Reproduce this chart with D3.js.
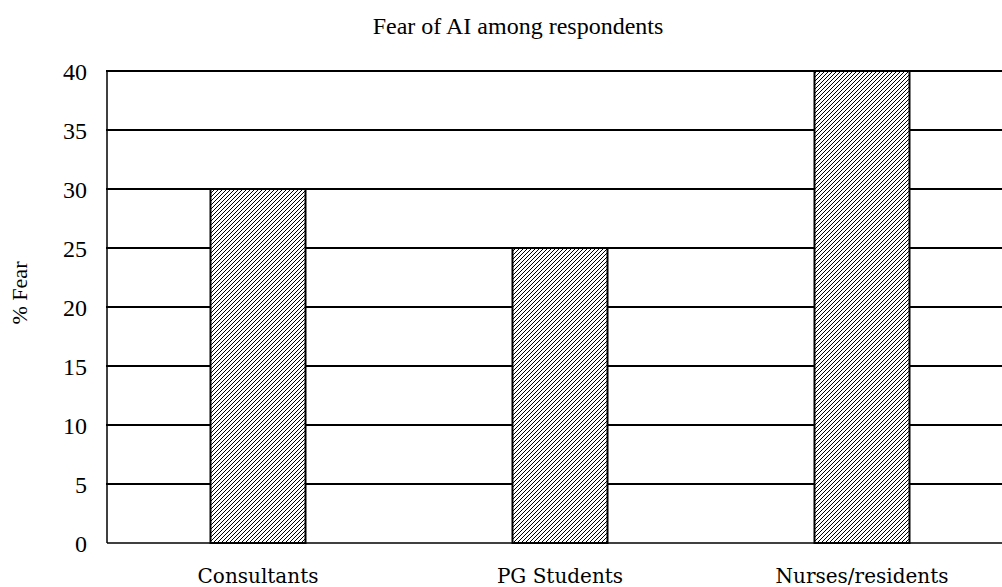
<!DOCTYPE html>
<html><head><meta charset="utf-8">
<script src="https://cdn.jsdelivr.net/npm/d3@7/dist/d3.min.js"></script>
<style>html,body{margin:0;padding:0;background:#fff;overflow:hidden}</style>
</head><body>
<svg id="c" width="1002" height="587"></svg>
<script>
const categories = ["Consultants", "PG Students", "Nurses/residents"];
const values = [30, 25, 40];
const yTicks = [0, 5, 10, 15, 20, 25, 30, 35, 40];
const title = "Fear of AI among respondents";
const yLabel = "% Fear";

const svg = d3.select("#c");
const L = 107, R = 1013, T = 71, B = 543, clipR = 1002;

const defs = svg.append("defs");
const pat = defs.append("pattern").attr("id", "hatch")
  .attr("patternUnits", "userSpaceOnUse").attr("width", 4).attr("height", 4);
pat.append("rect").attr("width", 4).attr("height", 4).attr("fill", "#fff");
pat.append("path").attr("d", "M-1,5 L5,-1 M-1,1 L1,-1 M3,5 L5,3")
  .attr("stroke", "#000").attr("stroke-width", 1);

const x = d3.scaleBand().domain(categories).range([L, R])
  .paddingInner(0.685).paddingOuter(0.3425);
const y = d3.scaleLinear().domain([0, 40]).range([B, T]);

// gridlines
svg.append("g").selectAll("line").data(yTicks.filter(d => d > 0)).join("line")
  .attr("x1", L - 1).attr("x2", clipR).attr("y1", d => y(d)).attr("y2", d => y(d))
  .attr("stroke", "#000").attr("stroke-width", 2);

// bars
svg.append("g").selectAll("rect").data(values).join("rect")
  .attr("x", (d, i) => Math.round(x(categories[i])) + 0.5)
  .attr("width", Math.round(x.bandwidth()))
  .attr("y", d => y(d))
  .attr("height", d => y(0) - y(d))
  .attr("fill", "url(#hatch)").attr("stroke", "#000").attr("stroke-width", 2);

// axes lines
svg.append("line").attr("x1", L).attr("x2", L).attr("y1", T).attr("y2", B)
  .attr("stroke", "#000").attr("stroke-width", 1.5);
svg.append("line").attr("x1", L).attr("x2", clipR).attr("y1", B).attr("y2", B)
  .attr("stroke", "#000").attr("stroke-width", 1.5);

// y tick labels
const yAxis = d3.axisLeft(y).tickValues(yTicks).tickSize(0).tickPadding(0);
const gy = svg.append("g").attr("transform", `translate(87,0)`).call(yAxis)
  .attr("font-family", "'Liberation Serif', serif").attr("font-size", 24);
gy.select(".domain").remove();
gy.selectAll("text").attr("font-family", "'Liberation Serif', serif").attr("font-size", 24)
  .attr("fill", "#000").attr("dy", "0.35em");

// x labels
svg.append("g").selectAll("text").data(categories).join("text")
  .attr("x", d => x(d) + x.bandwidth() / 2).attr("y", 583)
  .attr("text-anchor", "middle").attr("font-family", "DejaVu Serif").attr("font-size", 20)
  .attr("fill", "#000").text(d => d);

// title
svg.append("text").attr("x", 518).attr("y", 34).attr("text-anchor", "middle")
  .attr("font-family", "'Liberation Serif', serif").attr("font-size", 24).attr("fill", "#000").text(title);

// y label
svg.append("text").attr("transform", "translate(27,293) rotate(-90)")
  .attr("text-anchor", "middle").attr("font-family", "'Liberation Serif', serif").attr("font-size", 22)
  .attr("fill", "#000").text(yLabel);
</script>
</body></html>
